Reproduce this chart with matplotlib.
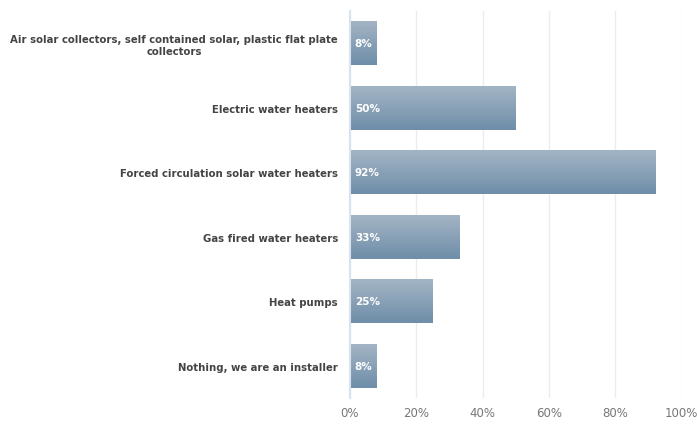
import numpy as np
import matplotlib.pyplot as plt
from matplotlib.colors import LinearSegmentedColormap

categories = [
    "Air solar collectors, self contained solar, plastic flat plate\ncollectors",
    "Electric water heaters",
    "Forced circulation solar water heaters",
    "Gas fired water heaters",
    "Heat pumps",
    "Nothing, we are an installer",
]
values = [8, 50, 92, 33, 25, 8]
xticks = [0, 20, 40, 60, 80, 100]

fig = plt.figure(figsize=(6.97, 4.27), dpi=100)
ax = fig.add_axes([0.502, 0.066, 0.476, 0.906])

y = np.arange(len(categories))
bars = ax.barh(y, values, height=0.68, color="none", edgecolor="none", zorder=2)

# vertical gradient fill, light on top, darker below
cmap = LinearSegmentedColormap.from_list("bar", ["#a3b4c4", "#6f8ea9"])
grad = np.linspace(0, 1, 64).reshape(-1, 1)
for b, v in zip(bars, values):
    x0, y0 = b.get_x(), b.get_y()
    h = b.get_height()
    im = ax.imshow(grad, cmap=cmap, aspect="auto", origin="upper",
                   extent=[x0, x0 + v, y0 + h, y0], zorder=2)
    im.set_clip_path(b)
    ax.text(1.5, y0 + h / 2, f"{v}%", color="white", fontsize=7.5,
            fontweight="bold", va="center", ha="left", zorder=3)

ax.set_xlim(0, 100)
ax.set_ylim(len(categories) - 0.5, -0.5)
ax.set_xticks(xticks)
ax.set_xticklabels([f"{t}%" for t in xticks], color="#777777", fontsize=8.5)
ax.set_yticks(y)
ax.set_yticklabels(categories, fontsize=7.3, fontweight="bold", color="#444444",
                   ha="center", multialignment="center")
ax.tick_params(axis="y", length=0, pad=0)
ax.tick_params(axis="x", length=0, pad=6)

# center the category labels, right edge ~12px from the axis
fig.canvas.draw()
renderer = fig.canvas.get_renderer()
for lab in ax.get_yticklabels():
    bb = lab.get_window_extent(renderer)
    w = bb.width / ax.bbox.width
    lab.set_x(-12 / ax.bbox.width - w / 2)

ax.grid(axis="x", color="#ececec", linewidth=1, zorder=0)
for s in ["top", "right", "bottom"]:
    ax.spines[s].set_visible(False)
ax.spines["left"].set_color("#d6e4f0")
ax.spines["left"].set_linewidth(1.5)

fig.savefig("out.png", dpi=100)
